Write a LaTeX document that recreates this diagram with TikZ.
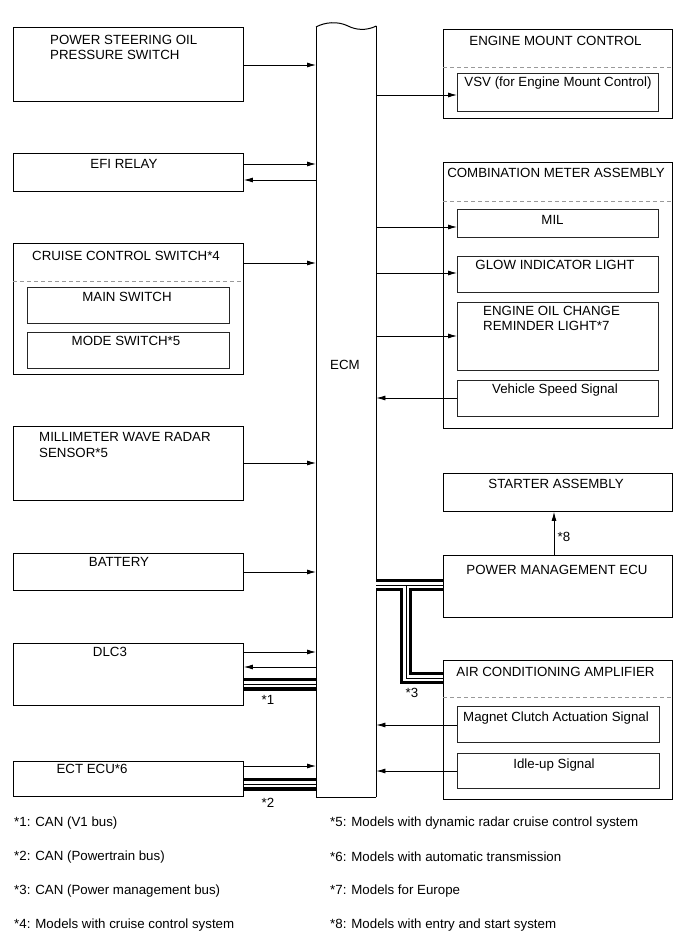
\documentclass[tikz,border=0pt]{standalone}
\usepackage{fontspec}
\setmainfont{Liberation Sans}
\usetikzlibrary{arrows.meta,calc}
\begin{document}
\begin{tikzpicture}[x=1pt,y=-1pt,
  outerbox/.style={draw=black, line width=0.9pt, inner sep=0pt, anchor=north west},
  innerbox/.style={draw=black!85, line width=0.8pt, inner sep=0pt, anchor=north west},
  lbl/.style={inner sep=0pt, font=\fontsize{13.3}{15}\selectfont, text height=9.5pt, text depth=0pt},
  arr/.style={line width=0.8pt, -{Latex[length=9pt,width=5pt]}},
  dsh/.style={draw=black!40, line width=0.8pt, dash pattern=on 4pt off 3pt},
  busblack/.style={line width=13pt, black},
  buswhite/.style={line width=6.6pt, white},
  busthin/.style={line width=1pt, black},
]
\useasboundingbox (0,0) rectangle (690,952);

% ---------------- ECM ----------------
\node[inner sep=0pt, anchor=north west, minimum width=60pt, minimum height=770pt] (ecm) at (316,27) {};
\draw[line width=1pt] (ecm.north west) -- (ecm.south west);
\draw[line width=1pt] (ecm.south west) -- (ecm.south east);
\draw[line width=1pt] (ecm.south east) -- (ecm.east |- 0,26);
\draw[line width=1pt] (ecm.east |- 0,26)
  .. controls (366,31) and (356,30) .. (348,26)
  .. controls (338,21) and (325,22) .. (ecm.north west);
\node[lbl] (ecmlbl) at (345,365) {ECM};

% ---------------- Left boxes ----------------
\node[outerbox, minimum width=230pt, minimum height=74pt] (ps) at (13,27) {};
\node[lbl, anchor=west] (pst1) at (50,40) {POWER STEERING OIL};
\node[lbl, anchor=west] (pst2) at (50,55) {PRESSURE SWITCH};

\node[outerbox, minimum width=230pt, minimum height=38pt] (efi) at (13,153) {};
\node[lbl] (efit) at (124,164) {EFI RELAY};

\node[outerbox, minimum width=230pt, minimum height=131pt] (ccs) at (13,243) {};
\node[lbl] (ccst) at (126,256) {CRUISE CONTROL SWITCH*4};
\draw[dsh] (ccs.west |- 0,281) -- (ccs.east |- 0,281);
\node[innerbox, minimum width=202pt, minimum height=36pt] (mainsw) at (27,287) {};
\node[lbl] (mainswt) at (127,297) {MAIN SWITCH};
\node[innerbox, minimum width=202pt, minimum height=36pt] (modesw) at (27,332) {};
\node[lbl] (modeswt) at (126,341) {MODE SWITCH*5};

\node[outerbox, minimum width=230pt, minimum height=74pt] (mwr) at (13,426) {};
\node[lbl, anchor=west] (mwrt1) at (39,437) {MILLIMETER WAVE RADAR};
\node[lbl, anchor=west] (mwrt2) at (39,453) {SENSOR*5};

\node[outerbox, minimum width=230pt, minimum height=37pt] (bat) at (13,553) {};
\node[lbl] (batt) at (119,562) {BATTERY};

\node[outerbox, minimum width=230pt, minimum height=62pt] (dlc) at (13,643) {};
\node[lbl] (dlct) at (110,652) {DLC3};

\node[outerbox, minimum width=230pt, minimum height=35pt] (ect) at (13,761) {};
\node[lbl] (ectt) at (92,769) {ECT ECU*6};

% ---------------- Right boxes ----------------
\node[outerbox, minimum width=229pt, minimum height=89pt] (emc) at (443,29) {};
\node[lbl] (emct) at (555.5,41) {ENGINE MOUNT CONTROL};
\draw[dsh] (emc.west |- 0,67) -- (emc.east |- 0,67);
\node[innerbox, minimum width=201pt, minimum height=38pt] (vsv) at (457,73) {};
\node[lbl] (vsvt) at (558,82) {VSV (for Engine Mount Control)};

\node[outerbox, minimum width=229pt, minimum height=266pt] (cma) at (443,162) {};
\node[lbl] (cmat) at (556,173) {COMBINATION METER ASSEMBLY};
\draw[dsh] (cma.west |- 0,201) -- (cma.east |- 0,201);
\node[innerbox, minimum width=201pt, minimum height=28pt] (mil) at (457,209) {};
\node[lbl] (milt) at (552.5,220) {MIL};
\node[innerbox, minimum width=201pt, minimum height=36pt] (glow) at (457,256) {};
\node[lbl] (glowt) at (555,265) {GLOW INDICATOR LIGHT};
\node[innerbox, minimum width=201pt, minimum height=68pt] (eoc) at (457,302) {};
\node[lbl, anchor=west] (eoct1) at (483,311) {ENGINE OIL CHANGE};
\node[lbl, anchor=west] (eoct2) at (483,326) {REMINDER LIGHT*7};
\node[innerbox, minimum width=201pt, minimum height=36pt] (vss) at (457,380) {};
\node[lbl] (vsst) at (555,389) {Vehicle Speed Signal};

\node[outerbox, minimum width=229pt, minimum height=38pt] (sta) at (443,473) {};
\node[lbl] (stat) at (556,484) {STARTER ASSEMBLY};

\node[outerbox, minimum width=229pt, minimum height=62pt] (pme) at (443,555) {};
\node[lbl] (pmet) at (557,570) {POWER MANAGEMENT ECU};

\node[outerbox, minimum width=229pt, minimum height=139pt] (aca) at (443,660) {};
\node[lbl] (acat) at (555.5,672) {AIR CONDITIONING AMPLIFIER};
\draw[dsh] (aca.west |- 0,697) -- (aca.east |- 0,697);
\node[innerbox, minimum width=202pt, minimum height=36pt] (mca) at (457,706) {};
\node[lbl] (mcat) at (556,717) {Magnet Clutch Actuation Signal};
\node[innerbox, minimum width=202pt, minimum height=35pt] (idl) at (457,753) {};
\node[lbl] (idlt) at (554,764) {Idle-up Signal};

% ---------------- Signal arrows ----------------
\draw[arr] (ps.east |- 0,65) -- (ecm.west |- 0,65);
\draw[arr] (efi.east |- 0,164) -- (ecm.west |- 0,164);
\draw[arr] (ecm.west |- 0,180) -- (efi.east |- 0,180);
\draw[arr] (ccs.east |- 0,263) -- (ecm.west |- 0,263);
\draw[arr] (mwr.east |- 0,463) -- (ecm.west |- 0,463);
\draw[arr] (bat.east |- 0,572) -- (ecm.west |- 0,572);
\draw[arr] (dlc.east |- 0,652) -- (ecm.west |- 0,652);
\draw[arr] (ecm.west |- 0,667) -- (dlc.east |- 0,667);
\draw[arr] (ect.east |- 0,766) -- (ecm.west |- 0,766);

\draw[arr] (ecm.east |- 0,95) -- (vsv.west |- 0,95);
\draw[arr] (ecm.east |- 0,227) -- (mil.west |- 0,227);
\draw[arr] (ecm.east |- 0,273) -- (glow.west |- 0,273);
\draw[arr] (ecm.east |- 0,336) -- (eoc.west |- 0,336);
\draw[arr] (vss.west |- 0,398) -- (ecm.east |- 0,398);
\draw[arr] (pme.north -| 554,0) -- (sta.south -| 554,0);
\node[lbl] (n8) at (564,537) {*8};
\draw[arr] (mca.west |- 0,725) -- (ecm.east |- 0,725);
\draw[arr] (idl.west |- 0,771) -- (ecm.east |- 0,771);

% ---------------- CAN buses ----------------
\draw[busblack] (dlc.east |- 0,684) -- (ecm.west |- 0,684);
\draw[buswhite] (dlc.east |- 0,684) -- (ecm.west |- 0,684);
\draw[busthin] (dlc.east |- 0,684) -- (ecm.west |- 0,684);
\node[lbl] (n1) at (268,700) {*1};

\draw[busblack] (ect.east |- 0,784) -- (ecm.west |- 0,784);
\draw[buswhite] (ect.east |- 0,784) -- (ecm.west |- 0,784);
\draw[busthin] (ect.east |- 0,784) -- (ecm.west |- 0,784);
\node[lbl] (n2) at (268,803) {*2};

\coordinate (pmbend1) at (406,585);
\coordinate (pmbend2) at (406,678);
\draw[busblack, line width=12pt] (ecm.east |- pmbend1) -- (pme.west |- pmbend1);
\draw[busblack, line width=12pt] (ecm.east |- pmbend1) -- (pmbend1) -- (pmbend2) -- (aca.west |- pmbend2);
\draw[buswhite, line width=6pt] (ecm.east |- pmbend1) -- (pme.west |- pmbend1);
\draw[buswhite, line width=6pt] (ecm.east |- pmbend1) -- (pmbend1) -- (pmbend2) -- (aca.west |- pmbend2);
\draw[busthin] (ecm.east |- pmbend1) -- (pme.west |- pmbend1);
\draw[busthin] (ecm.east |- pmbend1) -- (pmbend1) -- (pmbend2) -- (aca.west |- pmbend2);
\node[lbl] (n3) at (412,693) {*3};

% ---------------- Footnotes ----------------
\node[lbl, anchor=west] (f1) at (14,822) {*1: CAN (V1 bus)};
\node[lbl, anchor=west] (f2) at (14,856) {*2: CAN (Powertrain bus)};
\node[lbl, anchor=west] (f3) at (14,890) {*3: CAN (Power management bus)};
\node[lbl, anchor=west] (f4) at (14,924) {*4: Models with cruise control system};
\node[lbl, anchor=west] (f5) at (330,822) {*5: Models with dynamic radar cruise control system};
\node[lbl, anchor=west] (f6) at (330,857) {*6: Models with automatic transmission};
\node[lbl, anchor=west] (f7) at (330,890) {*7: Models for Europe};
\node[lbl, anchor=west] (f8) at (330,924) {*8: Models with entry and start system};
\end{tikzpicture}
\end{document}
